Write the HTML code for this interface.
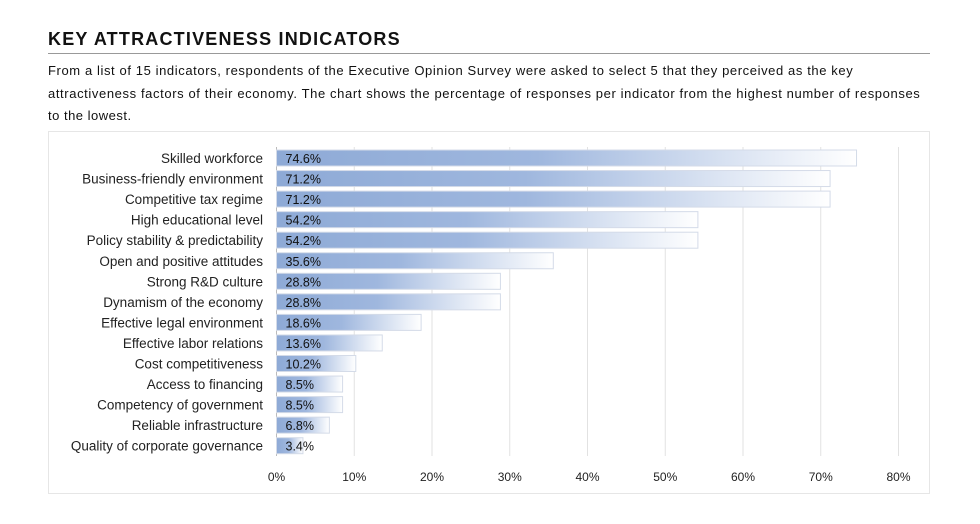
<!DOCTYPE html>
<html><head><meta charset="utf-8"><style>
body{margin:0;width:980px;height:524px;background:#fff;font-family:"Liberation Sans",sans-serif;position:relative;overflow:hidden}
#title{position:absolute;left:48px;top:29px;font-size:18px;font-weight:bold;color:#111;letter-spacing:1.2px}
#rule{position:absolute;left:48px;top:53px;width:882px;height:1px;background:#999}
#desc{position:absolute;left:48px;top:60px;width:900px;font-size:13px;line-height:22.5px;color:#111;white-space:nowrap}
#desc span{display:block}
#box{position:absolute;left:48px;top:131px;width:880px;height:361px;border:1px solid #e6e6e6}
svg{position:absolute;left:0;top:0}
</style></head><body>
<div id="title">KEY ATTRACTIVENESS INDICATORS</div>
<div id="rule"></div>
<div id="desc"><span style="letter-spacing:0.6px">From a list of 15 indicators, respondents of the Executive Opinion Survey were asked to select 5 that they perceived as the key</span><span style="letter-spacing:0.61px">attractiveness factors of their economy. The chart shows the percentage of responses per indicator from the highest number of responses</span><span style="letter-spacing:0.5px">to the lowest.</span></div>
<div id="box"></div>
<svg id="chart" width="980" height="524">
<defs><linearGradient id="g" x1="0" x2="1" y1="0" y2="0"><stop offset="0" stop-color="#8eaad6"/><stop offset="0.45" stop-color="#9fb7de"/><stop offset="1" stop-color="#ffffff"/></linearGradient></defs>
</svg>
<script>
const categories=["Skilled workforce","Business-friendly environment","Competitive tax regime","High educational level","Policy stability & predictability","Open and positive attitudes","Strong R&D culture","Dynamism of the economy","Effective legal environment","Effective labor relations","Cost competitiveness","Access to financing","Competency of government","Reliable infrastructure","Quality of corporate governance"];
const values=[74.6,71.2,71.2,54.2,54.2,35.6,28.8,28.8,18.6,13.6,10.2,8.5,8.5,6.8,3.4];
const ticks=[0,10,20,30,40,50,60,70,80];
const NS="http://www.w3.org/2000/svg";
const svg=document.getElementById('chart');
const x=v=>276.5+v*7.775;
const y=i=>150+i*20.55;
function mk(t,a){const e=document.createElementNS(NS,t);for(const k in a)e.setAttribute(k,a[k]);svg.appendChild(e);return e;}
ticks.forEach(t=>{
 const l=mk('line',{x1:x(t),x2:x(t),y1:147,y2:456,stroke:t===0?'#bbb':'#e2e2e2','stroke-width':1});
 
 
 const tx=mk('text',{x:x(t),y:481,'text-anchor':'middle','font-size':12,fill:'#222'});
 tx.textContent=t+'%';
 
 
});
categories.forEach((c,i)=>{
 const r=mk('rect',{x:x(0),y:y(i),width:x(values[i])-x(0),height:16,fill:'url(#g)',stroke:'#d4dbe8','stroke-width':1});
 
 
 const v=mk('text',{x:x(0)+9,y:y(i)+13,'font-size':12.5,fill:'#111'});
 v.textContent=values[i].toFixed(1)+'%';
 
 
 const lb=mk('text',{x:263,y:y(i)+13,'text-anchor':'end','font-size':13.5,fill:'#222'});
 lb.textContent=c;
 
 
});
</script>
</body></html>
